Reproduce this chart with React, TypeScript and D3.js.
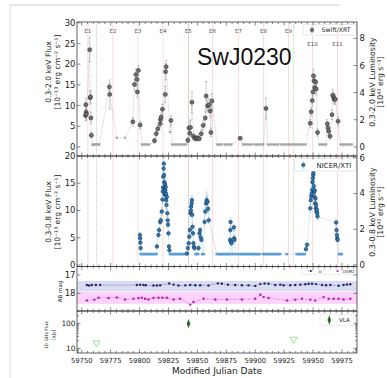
import React from 'react';
import * as d3 from 'd3';

// ---------- layout ----------
const W = 387;
const H = 378;
const LEFT = 77;
const RIGHT = 357;
const P1 = { top: 22, bottom: 156 };
const P2 = { top: 156, bottom: 266.5 };
const P3 = { top: 266.5, bottom: 311 };
const P4 = { top: 311, bottom: 353 };

// ---------- data ----------
const mjdRange: [number, number] = [59745.9, 59988];
const mjdTicks = [59750, 59775, 59800, 59825, 59850, 59875, 59900, 59925, 59950, 59975];

const eruptionMjd = [59755.3, 59777.0, 59798.6, 59820.3, 59842.2, 59863.1, 59885.5, 59907.2, 59928.8, 59949.6, 59971.2];
const eruptionName = ['E1', 'E2', 'E3', 'E4', 'E5', 'E6', 'E7', 'E8', 'E9', 'E10', 'E11'];

// conversion of flux to luminosity (10^42 erg/s per 10^-13 cgs flux)
const fluxPerLum = 3.28;

// Swift/XRT 0.3-2.0 keV: [MJD, flux, error]
const xrtPoints: [number, number, number][] = [
  [59753.2, 7.6, 1.3], [59753.5, 10.2, 1.5], [59753.8, 8.4, 1.3], [59754.1, 7.9, 1.4],
  [59756.9, 23.5, 3.0], [59757.3, 11.9, 1.6], [59757.6, 12.1, 1.5], [59757.9, 7.0, 1.4], [59758.3, 2.8, 0.7],
  [59773.9, 14.5, 0.9], [59774.2, 12.7, 3.5],
  [59794.2, 6.1, 1.0], [59795.6, 15.1, 1.5], [59796.8, 17.5, 1.4], [59797.8, 16.3, 1.3], [59798.1, 13.3, 1.4],
  [59799.0, 18.5, 1.2], [59800.5, 5.3, 0.9],
  [59812.9, 1.5, 0.6], [59814.4, 3.2, 0.8], [59815.8, 4.4, 0.8], [59817.8, 5.6, 0.9], [59818.1, 6.6, 1.0],
  [59818.7, 7.2, 1.0], [59819.8, 9.1, 1.2], [59822.2, 12.7, 2.0], [59822.5, 18.2, 2.0], [59823.0, 19.4, 1.5],
  [59827.1, 6.4, 1.2],
  [59841.8, 1.6, 0.6], [59842.7, 4.6, 1.5], [59843.4, 3.3, 1.0], [59844.0, 4.7, 1.8], [59845.3, 10.8, 2.5],
  [59846.6, 2.6, 0.8], [59847.7, 2.1, 0.6], [59849.0, 2.0, 0.6], [59850.1, 2.2, 0.6], [59851.6, 2.0, 0.6],
  [59853.3, 3.2, 1.0], [59855.0, 5.2, 1.2], [59856.8, 7.0, 1.5], [59857.6, 12.3, 3.5], [59858.8, 9.9, 1.5],
  [59860.2, 10.2, 1.5], [59861.1, 8.7, 1.5], [59861.7, 3.5, 1.0], [59862.6, 11.1, 1.8],
  [59887.0, 2.1, 0.4],
  [59909.3, 9.3, 2.5],
  [59947.6, 5.7, 1.0], [59948.4, 8.5, 1.0], [59949.3, 11.2, 1.2], [59949.9, 13.3, 1.3], [59950.3, 17.2, 1.6],
  [59950.8, 16.0, 1.5], [59951.5, 14.3, 1.4], [59952.3, 15.7, 1.5], [59952.8, 14.0, 1.4], [59953.9, 3.5, 0.9],
  [59962.3, 5.6, 1.0], [59963.0, 4.6, 0.9], [59963.5, 3.8, 0.8], [59964.7, 2.6, 0.7], [59966.4, 7.8, 1.2],
  [59967.0, 12.5, 1.4], [59967.8, 11.9, 1.3], [59968.4, 11.5, 1.2], [59969.3, 11.5, 1.2], [59971.6, 6.2, 1.0],
];

// Swift/XRT upper limits: [MJD, flux]
const xrtLimits: [number, number][] = [
  [59759.2, 0.6], [59760.2, 0.6], [59761.2, 0.6], [59762.2, 0.6], [59763.2, 0.6], [59764.2, 0.6], [59765.2, 0.6],
  [59780.4, 2.2], [59787.5, 2.2],
  [59802.0, 0.6], [59803.3, 0.6], [59804.6, 0.6], [59805.9, 0.6], [59807.2, 0.6], [59808.5, 0.6],
  [59826.3, 3.6],
  [59828.2, 0.6], [59829.7, 0.6], [59831.2, 0.6], [59832.7, 0.6], [59834.2, 0.6], [59835.7, 0.6], [59837.2, 0.6],
  [59838.7, 0.6], [59840.2, 0.6],
  [59867.0, 0.6], [59868.3, 0.6], [59869.6, 0.6], [59871.0, 0.6], [59873.5, 0.6], [59875.0, 0.6], [59876.5, 0.6],
  [59878.0, 0.6], [59879.5, 0.6],
  [59889.5, 0.6], [59891.0, 0.6], [59892.5, 0.6], [59894.0, 0.6], [59895.5, 0.6], [59897.0, 0.6], [59899.5, 0.6],
  [59901.0, 0.6], [59902.5, 0.6], [59904.0, 0.6], [59905.5, 0.6], [59907.0, 0.6],
  [59911.0, 0.6], [59912.5, 0.6], [59914.0, 0.6], [59915.5, 0.6], [59917.0, 0.6], [59918.5, 0.6], [59920.0, 0.6],
  [59922.5, 0.6], [59924.0, 0.6], [59925.5, 0.6], [59927.0, 0.6], [59928.5, 0.6], [59930.0, 0.6], [59931.5, 0.6],
  [59933.0, 0.6], [59934.5, 0.6], [59936.0, 0.6], [59937.5, 0.6], [59939.0, 0.6], [59940.5, 0.6], [59942.0, 0.6],
  [59943.5, 0.6],
  [59955.5, 0.6], [59957.0, 0.6], [59958.5, 0.6], [59960.0, 0.6], [59961.3, 0.6],
  [59973.8, 0.6], [59975.2, 0.6], [59976.6, 0.6], [59978.0, 0.6], [59979.4, 0.6], [59980.8, 0.6], [59982.2, 0.6],
  [59983.6, 0.6],
];

// NICER/XTI 0.3-0.8 keV: [MJD, flux, error]
const nicerPoints: [number, number, number][] = [
  [59800.3, 5.5, 0.5], [59800.5, 4.9, 0.5], [59800.7, 4.1, 0.4], [59800.9, 3.1, 0.4],
  [59815.0, 3.4, 0.4], [59816.3, 5.5, 0.5], [59816.9, 6.4, 0.5], [59817.8, 7.9, 0.6], [59818.4, 8.2, 0.6],
  [59819.2, 9.8, 0.7], [59819.8, 12.0, 0.8], [59820.1, 13.5, 0.8], [59820.3, 14.2, 0.9], [59820.5, 16.2, 0.9],
  [59820.8, 17.7, 1.0], [59821.0, 18.6, 1.1], [59821.2, 16.5, 0.9], [59821.4, 15.2, 0.9], [59821.6, 14.0, 0.8],
  [59821.8, 13.0, 0.8], [59822.0, 14.8, 0.9], [59822.2, 13.7, 0.8], [59822.4, 12.8, 0.8], [59822.6, 14.3, 0.9],
  [59822.8, 13.1, 0.8], [59823.0, 11.9, 0.7], [59823.3, 11.0, 0.7], [59823.6, 12.5, 0.8], [59824.0, 9.5, 0.7],
  [59824.3, 8.2, 0.6], [59824.6, 7.4, 0.6], [59825.0, 5.8, 0.5], [59825.4, 3.4, 0.4], [59825.8, 2.7, 0.4],
  [59841.0, 2.1, 0.3], [59841.8, 3.1, 0.4], [59842.5, 4.0, 0.4], [59843.0, 5.2, 0.5], [59843.5, 6.4, 0.5],
  [59844.0, 9.5, 0.7], [59844.3, 10.0, 0.7], [59844.6, 10.7, 0.7], [59845.0, 11.3, 0.8], [59845.3, 11.9, 0.8],
  [59845.5, 9.2, 0.7], [59845.8, 7.0, 0.6], [59846.2, 5.8, 0.5], [59846.6, 4.0, 0.4], [59847.0, 3.3, 0.4],
  [59847.5, 3.1, 0.4],
  [59851.0, 3.1, 0.4], [59851.8, 5.8, 0.5], [59852.3, 6.4, 0.5], [59852.8, 5.1, 0.5], [59853.5, 4.6, 0.4],
  [59856.2, 7.9, 0.6], [59856.8, 9.8, 0.7], [59857.5, 11.3, 1.2], [59858.0, 11.9, 1.5], [59858.8, 11.6, 1.2],
  [59859.3, 10.3, 0.7], [59859.8, 8.2, 0.6],
  [59878.3, 4.6, 0.5], [59878.5, 6.4, 0.6], [59878.7, 7.9, 0.7], [59879.0, 4.3, 0.5], [59879.4, 4.0, 0.5],
  [59881.5, 6.9, 0.6], [59881.8, 4.9, 0.5], [59882.1, 4.6, 0.5],
  [59943.9, 2.9, 0.3], [59944.8, 3.7, 0.4],
  [59947.6, 10.4, 0.7], [59948.0, 11.9, 0.8], [59948.4, 12.6, 0.8], [59948.8, 13.1, 0.8], [59949.2, 13.8, 0.9],
  [59949.5, 15.2, 0.9], [59949.8, 15.9, 1.0], [59950.1, 16.5, 1.0], [59950.3, 16.9, 1.0], [59950.6, 14.5, 0.9],
  [59950.9, 13.4, 0.8], [59951.2, 12.5, 0.8], [59951.5, 13.7, 0.8], [59951.8, 11.3, 0.7], [59952.1, 12.2, 0.8],
  [59952.4, 10.4, 0.7], [59952.7, 11.0, 0.7], [59953.0, 9.8, 0.7], [59953.3, 10.1, 0.7], [59953.6, 9.5, 0.6],
  [59953.9, 8.9, 0.6],
  [59970.0, 7.8, 0.6], [59970.3, 6.4, 0.5], [59970.6, 5.5, 0.5], [59970.9, 4.9, 0.5], [59971.2, 4.6, 0.4],
];

// NICER/XTI non-detections (MJD) sitting at the sensitivity floor
const nicerLimitFlux = 2.0;
const nicerLimitMjd = [
  59801.2, 59802.3, 59803.4, 59804.5, 59805.6, 59806.7, 59807.8, 59808.9, 59810.0, 59811.1, 59812.2, 59813.3, 59814.4,
  59826.4, 59827.5, 59828.6, 59829.7, 59830.8, 59831.9, 59833.0, 59834.1, 59835.2, 59836.3, 59837.4, 59838.5, 59839.5,
  59848.6, 59849.7, 59850.5, 59854.3, 59855.3,
  59866.9, 59868.0, 59869.1, 59870.2, 59871.3, 59872.4, 59873.5, 59874.6, 59875.7, 59876.8, 59877.6, 59880.0, 59880.8,
  59883.0, 59884.1, 59885.2,
  59887.2, 59888.3, 59889.4, 59890.5, 59891.6, 59892.7, 59893.8, 59894.9, 59896.0, 59897.1, 59898.2, 59899.3, 59900.4,
  59901.5, 59902.6, 59903.7,
  59907.0, 59908.1, 59909.2, 59910.3, 59911.4, 59912.5, 59913.6, 59914.7, 59915.8, 59916.9, 59918.0, 59919.1, 59920.2,
  59921.3,
  59927.2,
  59936.0, 59937.1, 59938.2, 59939.3, 59940.4, 59941.5, 59942.6,
  59972.6, 59973.6, 59974.6,
];

// Swift/UVOT photometry (AB mag)
const uMjd = [59754.4, 59756.4, 59758.7, 59762.2, 59765.9, 59797.7, 59800.5, 59803.4, 59805.4, 59812.0, 59815.0,
  59817.8, 59825.6, 59829.4, 59833.7, 59839.5, 59843.8, 59848.1, 59852.4, 59859.6, 59867.8, 59871.2, 59876.4,
  59882.7, 59888.5, 59894.2, 59900.0, 59904.4, 59908.1, 59911.5, 59917.3, 59921.7, 59924.5, 59930.3, 59934.6,
  59939.0, 59943.3, 59946.2, 59949.1, 59952.5, 59957.7, 59961.2, 59964.9, 59972.1, 59976.4, 59979.4, 59982.2];
const uMag = [17.55, 17.58, 17.55, 17.55, 17.55, 17.55, 17.54, 17.55, 17.56, 17.58, 17.58,
  17.56, 17.47, 17.53, 17.58, 17.57, 17.55, 17.56, 17.56, 17.58, 17.46, 17.48, 17.53,
  17.55, 17.56, 17.57, 17.6, 17.5, 17.47, 17.48, 17.55, 17.53, 17.56, 17.56, 17.55,
  17.53, 17.51, 17.48, 17.48, 17.5, 17.55, 17.56, 17.55, 17.59, 17.55, 17.52, 17.51];
const uvm2Mjd = [59754.4, 59761.0, 59764.5, 59773.1, 59780.4, 59787.5, 59794.7, 59799.1, 59802.0, 59804.8, 59807.7,
  59812.0, 59816.4, 59819.8, 59823.6, 59829.4, 59835.1, 59843.8, 59846.6, 59855.3, 59865.4, 59875.5, 59888.5,
  59900.0, 59904.4, 59907.2, 59911.5, 59927.5, 59934.6, 59940.4, 59947.6, 59951.9, 59959.1, 59963.5, 59967.8,
  59972.1, 59976.4, 59982.2];
const uvm2Mag = [18.39, 18.35, 18.25, 18.26, 18.23, 18.34, 18.3, 18.26, 18.25, 18.3, 18.34,
  18.26, 18.25, 18.25, 18.25, 18.34, 18.3, 18.62, 18.48, 18.3, 18.34, 18.34, 18.34,
  18.3, 18.08, 18.21, 18.26, 18.39, 18.35, 18.3, 18.35, 18.39, 18.21, 18.3, 18.3,
  18.3, 18.34, 18.3];
const uBand: [number, number] = [17.33, 17.9];
const uvm2Band: [number, number] = [17.93, 18.58];

// VLA 10 GHz (uJy); upper limits flagged
const radioMjd = [59762.8, 59842.3, 59933.2];
const radioFlux = [16.5, 97, 23];
const radioErr = [0, 9, 0];
const radioUpper = [true, false, true];

// ---------- styles ----------
const FONT = 'DejaVu Sans, Verdana, sans-serif';
const AXIS = '#3a3a3a';

function XTicks({ x, top, bottom }: { x: d3.ScaleLinear<number, number>; top: number; bottom: number }) {
  const minor = d3.range(59750, mjdRange[1], 5).filter((v) => v % 25 !== 0);
  return (
    <g stroke={AXIS} strokeWidth={0.6}>
      {mjdTicks.map((t) => (
        <g key={'M' + t}>
          <line x1={x(t)} x2={x(t)} y1={bottom} y2={bottom - 3.5} />
          <line x1={x(t)} x2={x(t)} y1={top} y2={top + 3.5} />
        </g>
      ))}
      {minor.map((t) => (
        <g key={'m' + t}>
          <line x1={x(t)} x2={x(t)} y1={bottom} y2={bottom - 2} />
          <line x1={x(t)} x2={x(t)} y1={top} y2={top + 2} />
        </g>
      ))}
    </g>
  );
}

function YTicks({ ys, side, len = 3.5 }: { ys: number[]; side: 'left' | 'right'; len?: number }) {
  const x0 = side === 'left' ? LEFT : RIGHT;
  const d = side === 'left' ? len : -len;
  return (
    <g stroke={AXIS} strokeWidth={0.6}>
      {ys.map((y, i) => (
        <line key={i} x1={x0} x2={x0 + d} y1={y} y2={y} />
      ))}
    </g>
  );
}

function Frame({ top, bottom }: { top: number; bottom: number }) {
  return <rect x={LEFT} y={top} width={RIGHT - LEFT} height={bottom - top} fill="none" stroke={AXIS} strokeWidth={0.8} />;
}

function ErrBar({ cx, y0, y1, color, cap = 1.2, w = 0.55 }: { cx: number; y0: number; y1: number; color: string; cap?: number; w?: number }) {
  return (
    <g stroke={color} strokeWidth={w}>
      <line x1={cx} x2={cx} y1={y0} y2={y1} />
      <line x1={cx - cap} x2={cx + cap} y1={y0} y2={y0} />
      <line x1={cx - cap} x2={cx + cap} y1={y1} y2={y1} />
    </g>
  );
}

export default function App() {
  const x = d3.scaleLinear().domain(mjdRange).range([LEFT, RIGHT]);
  const y1 = d3.scaleLinear().domain([-2.2, 30.2]).range([P1.bottom, P1.top]);
  const y2 = d3.scaleLinear().domain([-0.28, 20]).range([P2.bottom, P2.top]);
  const y3 = d3.scaleLinear().domain([16.54, 18.97]).range([P3.top, P3.bottom]);
  const y4 = d3.scaleLog().domain([6.5, 310]).range([P4.bottom, P4.top]);

  // XRT: detections and limits joined in time order
  const xrtAll = [
    ...xrtPoints.map((p) => [p[0], p[1]] as [number, number]),
    ...xrtLimits,
  ].sort((a, b) => a[0] - b[0]);
  const nicerAll = [
    ...nicerPoints.map((p) => [p[0], p[1]] as [number, number]),
    ...nicerLimitMjd.map((m) => [m, nicerLimitFlux] as [number, number]),
  ].sort((a, b) => a[0] - b[0]);

  const line1 = d3.line<[number, number]>().x((d) => x(d[0])).y((d) => y1(d[1]));
  const line2 = d3.line<[number, number]>().x((d) => x(d[0])).y((d) => y2(d[1]));
  const line3 = d3.line<[number, number]>().x((d) => x(d[0])).y((d) => y3(d[1]));

  const triDown = d3.symbol().type(d3.symbolTriangle).size(5)()!;
  const triDownBig = d3.symbol().type(d3.symbolTriangle).size(22)()!;
  const diamond = d3.symbol().type(d3.symbolDiamond).size(16)()!;

  const lumTicks1 = [0, 2, 4, 6, 8];
  const lumTicks2 = [0, 2, 4, 6];
  const fluxTicks1 = [0, 5, 10, 15, 20, 25, 30];
  const fluxTicks2 = [0, 5, 10, 15, 20];
  const magTicks = [17, 18];
  const radioMajor = [10, 100];
  const radioMinor = [7, 8, 9, 20, 30, 40, 50, 60, 70, 80, 90, 200, 300];

  const tickFont = 8.5;

  return (
    <div style={{ position: 'absolute', left: 0, top: 0 }}>
      <svg width={W} height={H} viewBox={`0 0 ${W} ${H}`} style={{ display: 'block', background: '#fff' }}>
        {/* page frame */}
        <line x1={10} x2={340} y1={5} y2={5} stroke="#cfcfcf" strokeWidth={1} />
        <line x1={10} x2={10} y1={5} y2={H} stroke="#dcdcdc" strokeWidth={1} />

        {/* ---------- panel 3 bands ---------- */}
        <rect x={LEFT} width={RIGHT - LEFT} y={y3(uBand[0])} height={y3(uBand[1]) - y3(uBand[0])} fill="#dadcf2" />
        <rect x={LEFT} width={RIGHT - LEFT} y={y3(uvm2Band[0])} height={y3(uvm2Band[1]) - y3(uvm2Band[0])} fill="#fcd3fa" />

        {/* ---------- eruption markers in X-ray panels ---------- */}
        {eruptionMjd.map((m, i) => (
          <line key={'e' + i} x1={x(m)} x2={x(m)} y1={P1.top} y2={P2.bottom} stroke="#fbdcdc" strokeWidth={1.1} />
        ))}
        {radioMjd.map((m, i) => (
          <line key={'r' + i} x1={x(m)} x2={x(m)} y1={P1.top} y2={P2.bottom} stroke="#b4c9ae" strokeWidth={0.8} strokeDasharray="1.2,1.2" />
        ))}
        {eruptionName.map((n, i) => (
          <text key={'en' + i} x={x(eruptionMjd[i])} y={i >= 9 ? 46 : 32.6} fontSize={5.5} fontFamily={FONT} fill="#555" textAnchor="middle">
            {n}
          </text>
        ))}

        {/* ---------- panel 1: Swift/XRT ---------- */}
        <path d={line1(xrtAll)!} fill="none" stroke="#b0b0b0" strokeWidth={0.7} strokeDasharray="1,1.3" />
        {xrtPoints.map((p, i) => (
          <ErrBar key={'xe' + i} cx={x(p[0])} y0={y1(p[1] - p[2])} y1={y1(p[1] + p[2])} color="#a2a2a2" />
        ))}
        {xrtLimits.map((p, i) => (
          <path key={'xl' + i} d={triDown} transform={`translate(${x(p[0])},${y1(p[1])}) rotate(180)`} fill="#a5a5a5" />
        ))}
        {xrtPoints.map((p, i) => (
          <circle key={'xp' + i} cx={x(p[0])} cy={y1(p[1])} r={2.0} fill="#707070" stroke="#262626" strokeWidth={0.55} />
        ))}

        {/* ---------- panel 2: NICER/XTI ---------- */}
        <path d={line2(nicerAll)!} fill="none" stroke="#7fb3dc" strokeWidth={0.6} strokeDasharray="1,1.2" />
        {nicerLimitMjd.map((m, i) => (
          <rect key={'nl' + i} x={x(m) - 1.5} y={y2(nicerLimitFlux) - 1.2} width={3} height={2.4} fill="#5c9fd6" />
        ))}
        {nicerPoints.map((p, i) => (
          <ErrBar key={'ne' + i} cx={x(p[0])} y0={y2(p[1] - p[2])} y1={y2(p[1] + p[2])} color="#8fbee3" cap={0.9} w={0.55} />
        ))}
        {nicerPoints.map((p, i) => (
          <circle key={'np' + i} cx={x(p[0])} cy={y2(p[1])} r={1.8} fill="#2b78b5" stroke="#10304f" strokeWidth={0.55} />
        ))}

        {/* ---------- panel 3: UVOT ---------- */}
        <path d={line3(uMjd.map((m, i) => [m, uMag[i]] as [number, number]))!} fill="none" stroke="#3b3f8c" strokeWidth={0.6} strokeDasharray="1,1" />
        <path d={line3(uvm2Mjd.map((m, i) => [m, uvm2Mag[i]] as [number, number]))!} fill="none" stroke="#d04ad0" strokeWidth={0.6} strokeDasharray="2,1,0.6,1" />
        {uMjd.map((m, i) => (
          <circle key={'u' + i} cx={x(m)} cy={y3(uMag[i])} r={1.2} fill="#22266a" />
        ))}
        {uvm2Mjd.map((m, i) => (
          <circle key={'m2' + i} cx={x(m)} cy={y3(uvm2Mag[i])} r={1.2} fill="#b81ab8" />
        ))}

        {/* ---------- panel 4: VLA ---------- */}
        {radioMjd.map((m, i) =>
          radioUpper[i] ? (
            <path key={'ra' + i} d={triDownBig} transform={`translate(${x(m)},${y4(radioFlux[i])}) rotate(180)`} fill="none" stroke="#8fd08a" strokeWidth={0.8} />
          ) : (
            <g key={'ra' + i}>
              <ErrBar cx={x(m)} y0={y4(radioFlux[i] - radioErr[i])} y1={y4(radioFlux[i] + radioErr[i])} color="#1d5e1d" cap={0.8} />
              <path d={diamond} transform={`translate(${x(m)},${y4(radioFlux[i])}) scale(0.8,1.25)`} fill="#1f6a22" />
            </g>
          ),
        )}

        {/* ---------- legends ---------- */}
        <g fontFamily={FONT} fill="#222">
          <rect x={303} y={24.5} width={53} height={10.5} rx={1.5} fill="#fff" stroke="#d6d6d6" strokeWidth={0.6} />
          <ErrBar cx={312} y0={27.3} y1={32.7} color="#888" cap={1} />
          <circle cx={312} cy={30} r={1.8} fill="#707070" stroke="#262626" strokeWidth={0.5} />
          <text x={321.5} y={32.2} fontSize={6.2}>Swift/XRT</text>

          <rect x={294.5} y={158.5} width={61.5} height={12.5} rx={1.5} fill="#fff" stroke="#d6d6d6" strokeWidth={0.6} />
          <ErrBar cx={303.3} y0={161.8} y1={168.2} color="#8fbee3" cap={1} />
          <circle cx={303.3} cy={165} r={1.8} fill="#2b78b5" stroke="#10304f" strokeWidth={0.5} />
          <text x={316.5} y={167.5} fontSize={7}>NICER/XTI</text>

          <rect x={302} y={267.5} width={54} height={7} rx={1} fill="#fff" stroke="#dcdcdc" strokeWidth={0.5} />
          <line x1={308} x2={313.5} y1={271} y2={271} stroke="#3b3f8c" strokeWidth={0.5} strokeDasharray="1,0.8" />
          <circle cx={310.8} cy={271} r={1.1} fill="#22266a" />
          <text x={318.5} y={272.6} fontSize={4.2}>U</text>
          <circle cx={337.5} cy={271} r={1.1} fill="#b81ab8" />
          <text x={342.5} y={272.6} fontSize={4.2}>UVM2</text>

          <rect x={320} y={314.5} width={36} height={11} rx={1.5} fill="#fff" stroke="#dcdcdc" strokeWidth={0.5} />
          <path d={diamond} transform="translate(329.3,320) scale(0.8,1.25)" fill="#1f6a22" />
          <text x={339} y={322} fontSize={5.5}>VLA</text>
        </g>

        {/* ---------- frames & ticks ---------- */}
        <Frame top={P1.top} bottom={P1.bottom} />
        <Frame top={P2.top} bottom={P2.bottom} />
        <Frame top={P3.top} bottom={P3.bottom} />
        <Frame top={P4.top} bottom={P4.bottom} />
        <XTicks x={x} top={P1.top} bottom={P1.bottom} />
        <XTicks x={x} top={P2.top} bottom={P2.bottom} />
        <XTicks x={x} top={P3.top} bottom={P3.bottom} />
        <XTicks x={x} top={P4.top} bottom={P4.bottom} />

        <YTicks ys={fluxTicks1.map((v) => y1(v))} side="left" />
        <YTicks ys={lumTicks1.map((v) => y1(v * fluxPerLum))} side="right" />
        <YTicks ys={fluxTicks2.map((v) => y2(v))} side="left" />
        <YTicks ys={lumTicks2.map((v) => y2(v * fluxPerLum))} side="right" />
        <YTicks ys={magTicks.map((v) => y3(v))} side="left" />
        <YTicks ys={magTicks.map((v) => y3(v))} side="right" />
        <YTicks ys={radioMajor.map((v) => y4(v))} side="left" />
        <YTicks ys={radioMajor.map((v) => y4(v))} side="right" />
        <YTicks ys={radioMinor.map((v) => y4(v))} side="left" len={2} />
        <YTicks ys={radioMinor.map((v) => y4(v))} side="right" len={2} />

        {/* ---------- tick labels ---------- */}
        <g fontFamily={FONT} fill="#222" fontSize={tickFont}>
          {fluxTicks1.map((v) => (
            <text key={'f1' + v} x={75.5} y={y1(v) + 3} textAnchor="end">{v}</text>
          ))}
          {lumTicks1.map((v) => (
            <text key={'l1' + v} x={359.5} y={y1(v * fluxPerLum) + 3}>{v}</text>
          ))}
          {fluxTicks2.map((v) => (
            <text key={'f2' + v} x={75.5} y={y2(v) + 3} textAnchor="end">{v}</text>
          ))}
          {lumTicks2.map((v) => (
            <text key={'l2' + v} x={359.5} y={y2(v * fluxPerLum) + 3}>{v}</text>
          ))}
          {magTicks.map((v) => (
            <text key={'m' + v} x={75.5} y={y3(v) + 3} textAnchor="end">{v}</text>
          ))}
          {radioMajor.map((v) => (
            <text key={'r' + v} x={75.5} y={y4(v) + 2.6} textAnchor="end" fontSize={7.4}>{v}</text>
          ))}
          {mjdTicks.map((t) => (
            <text key={'x' + t} x={x(t)} y={362.5} textAnchor="middle" fontSize={6.8}>{t}</text>
          ))}
        </g>

        {/* ---------- axis titles ---------- */}
        <g fontFamily={FONT} fill="#222" textAnchor="middle">
          <text transform="translate(50.5,72) rotate(-90)" fontSize={7.6}>0.3-2.0 keV Flux</text>
          <text transform="translate(59.5,72) rotate(-90)" fontSize={7.6}>[10⁻¹³ erg cm⁻² s⁻¹]</text>
          <text transform="translate(50.5,212) rotate(-90)" fontSize={7.6}>0.3-0.8 keV Flux</text>
          <text transform="translate(59.5,212) rotate(-90)" fontSize={7.6}>[10⁻¹³ erg cm⁻² s⁻¹]</text>
          <text transform="translate(61.5,291.5) rotate(-90)" fontSize={5.5}>AB mag</text>
          <text transform="translate(48,335) rotate(-90)" fontSize={4.6}>10 GHz Flux</text>
          <text transform="translate(55.3,335) rotate(-90)" fontSize={4.6}>[μJy]</text>

          <text transform="translate(374.5,82) rotate(-90)" fontSize={7.8}>0.3-2.0 keV Luminosity</text>
          <text transform="translate(383,82) rotate(-90)" fontSize={7.8}>[10⁴² erg s⁻¹]</text>
          <text transform="translate(374.5,212) rotate(-90)" fontSize={7.8}>0.3-0.8 keV Luminosity</text>
          <text transform="translate(383,212) rotate(-90)" fontSize={7.8}>[10⁴² erg s⁻¹]</text>

          <text x={217} y={374} fontSize={9}>Modified Julian Date</text>
        </g>

        <text x={197} y={64.5} fontFamily="Liberation Sans, Arial, sans-serif" fontSize={23} fill="#111">SwJ0230</text>
      </svg>
    </div>
  );
}
